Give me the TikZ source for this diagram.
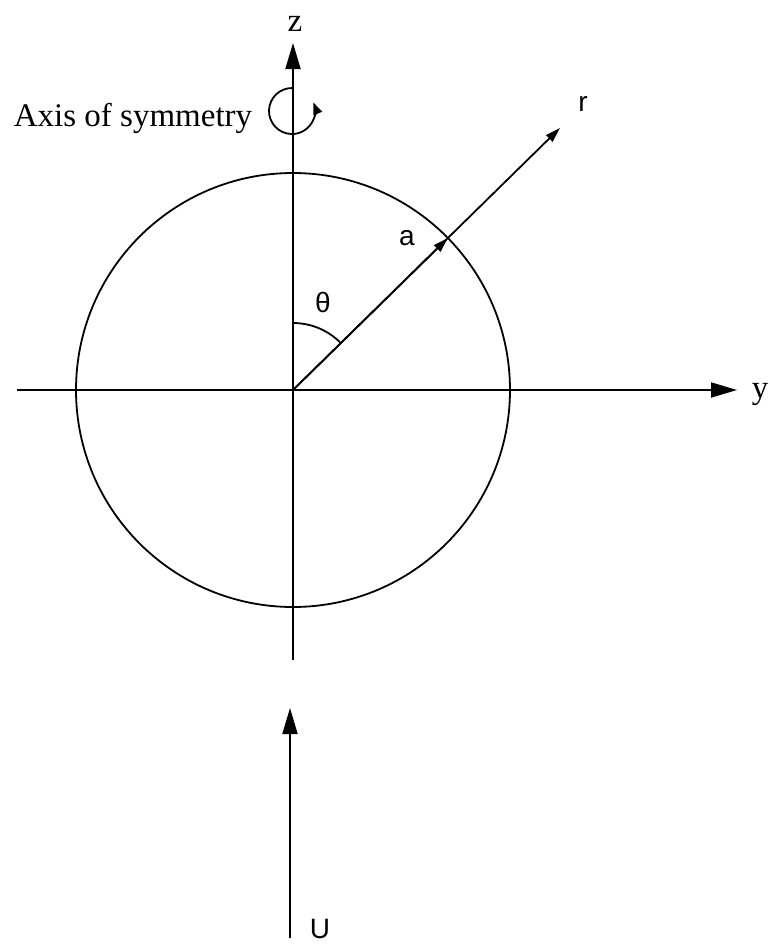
\documentclass[tikz,border=0pt]{standalone}
\usepackage{fontspec}
\setmainfont{Liberation Serif}
\newfontfamily\sansf{Liberation Sans}
\usetikzlibrary{arrows.meta,calc}
\begin{document}
\begin{tikzpicture}[x=1pt,y=-1pt, line width=1.8pt,
  big/.style={-{Triangle[length=26pt,width=15pt]}},
  small/.style={-{Triangle[length=15pt,width=9pt]}},
  serl/.style={inner sep=0pt, font=\fontsize{33}{38}\selectfont},
  sanl/.style={inner sep=0pt, font=\sansf\fontsize{28}{33}\selectfont}]
\useasboundingbox (0,0) rectangle (769,951);
\coordinate (O) at (293,390);
\coordinate (zb) at (293,660);
\coordinate (zt) at (293,43);
\coordinate (yl) at (17,390);
\coordinate (yr) at (737,390);
\coordinate (rt) at (560,128);
\coordinate (A) at ($(O)!0.58!(rt)$);
\coordinate (ub) at (290,938);
\coordinate (ut) at (290,708);
% circle
\draw (O) circle[radius=217];
% axes
\draw[big] (zb) -- (zt);
\draw[big] (yl) -- (yr);
\draw[small] (O) -- (rt);
\draw[small] (O) -- (A);
% theta arc
\draw (O) ++(270:67) arc[start angle=270, end angle=315.6, radius=67];
% symmetry rotation arrow
\draw[-{Triangle[length=12pt,width=9pt]}] (292,111) ++(272:23) arc[start angle=272, end angle=-22, x radius=23, y radius=23];
% U arrow
\draw[big] (ub) -- (ut);
% labels
\node[serl] (zlab) at (295,24) {z};
\node[serl] (ylab) at (760,394) {y};
\node[serl, anchor=base west] (axis) at (13,126) {Axis of symmetry};
\node[sanl] (rlab) at (583,104) {r};
\node[sanl] (alab) at (407,238) {a};
\node[sanl] (thlab) at (323,302) {θ};
\node[sanl] (ulab) at (320,929) {U};
\end{tikzpicture}
\end{document}
